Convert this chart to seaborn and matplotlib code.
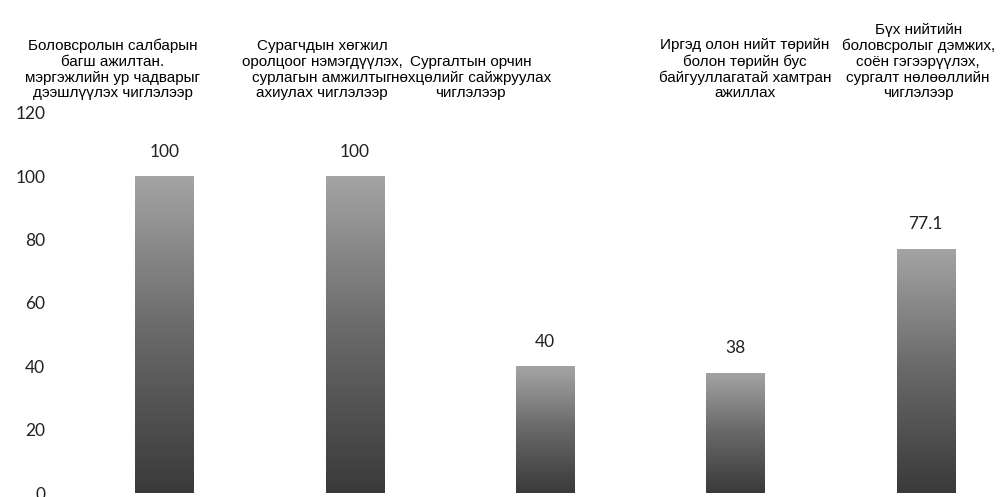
import matplotlib
matplotlib.use('Agg')
import matplotlib.pyplot as plt
import numpy as np
import seaborn as sns

# Chart data
categories = [
    'Боловсролын салбарын\nбагш ажилтан.\nмэргэжлийн ур чадварыг\nдээшлүүлэх чиглэлээр',
    'Сурагчдын хөгжил\nоролцоог нэмэгдүүлэх,\nсурлагын амжилтыг\nахиулах чиглэлээр',
    'Сургалтын орчин\nнөхцөлийг сайжруулах\nчиглэлээр',
    'Иргэд олон нийт төрийн\nболон төрийн бус\nбайгууллагатай хамтран\nажиллах',
    'Бүх нийтийн\nболовсролыг дэмжих,\nсоён гэгээрүүлэх,\nсургалт нөлөөллийн\nчиглэлээр',
]
values = [100, 100, 40, 38, 77.1]
value_labels = ['100', '100', '40', '38', '77.1']
yticks = [0, 20, 40, 60, 80, 100, 120]

# horizontal shift of each category label (in category units), as in the source
label_shift = [-0.27, -0.17, -0.39, 0.05, -0.04]

sns.set_style('white')
plt.rcParams['font.family'] = ['Liberation Sans', 'DejaVu Sans']

fig = plt.figure(figsize=(10, 4.97), dpi=100)
ax = fig.add_axes([0.069, 0.008, 0.952, 0.765])

sns.barplot(x=list(range(len(values))), y=values, width=0.305,
            color='#777777', ax=ax)

# gray gradient inside each bar (dark at the bottom, lighter at the top)
grad = np.linspace(0, 1, 256).reshape(-1, 1)
cmap = matplotlib.colors.LinearSegmentedColormap.from_list(
    'g', ['#3a3a3a', '#686868', '#a4a4a4'])
for p in ax.patches:
    x0, y0 = p.get_x(), p.get_y()
    w, h = p.get_width(), p.get_height()
    im = ax.imshow(grad, cmap=cmap, aspect='auto', origin='lower',
                   extent=(x0, x0 + w, y0, y0 + h), zorder=2)
    im.set_clip_path(p)
    p.set_facecolor('none')
    p.set_edgecolor('none')

ax.set_xlim(-0.5, 4.5)
ax.set_ylim(0, 120)
ax.set_yticks(yticks)
ax.set_yticklabels([str(t) for t in yticks], fontsize=12.5,
                   family=['Lato', 'DejaVu Sans'], color='#222222')
ax.tick_params(axis='y', length=0, pad=17)
ax.set_xticks([])
ax.set_xlabel('')
ax.set_ylabel('')
sns.despine(ax=ax, left=True, bottom=True)

# value labels above bars
for i, (v, lab) in enumerate(zip(values, value_labels)):
    ax.annotate(lab, (i, v), xytext=(0, 12), textcoords='offset points',
                ha='center', va='bottom', fontsize=12.5,
                family=['Lato', 'DejaVu Sans'], color='#222222')

# category labels across the top
for i, (cat, s) in enumerate(zip(categories, label_shift)):
    ax.annotate(cat, (i + s, 1.0), xycoords=ax.get_xaxis_transform(),
                xytext=(0, 9), textcoords='offset points',
                ha='center', va='bottom', fontsize=11, linespacing=1.15,
                color='#000000', annotation_clip=False)

fig.savefig('out.png', dpi=100)
